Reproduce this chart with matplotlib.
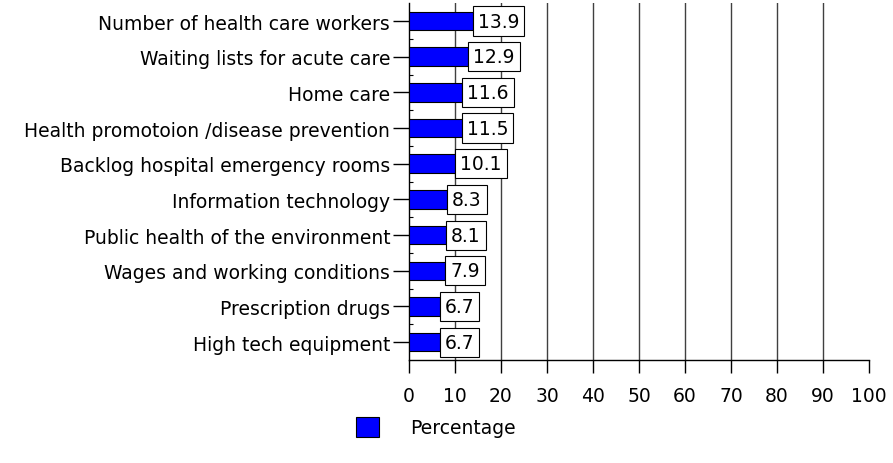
import numpy as np
import matplotlib.pyplot as plt
from matplotlib.ticker import FixedLocator

plt.rcParams['font.family'] = ['DejaVu Sans']

# data (top to bottom as in the chart)
categories = [
    'Number of health care workers',
    'Waiting lists for acute care',
    'Home care',
    'Health promotoion /disease prevention',
    'Backlog hospital emergency rooms',
    'Information technology',
    'Public health of the environment',
    'Wages and working conditions',
    'Prescription drugs',
    'High tech equipment',
]
values = [13.9, 12.9, 11.6, 11.5, 10.1, 8.3, 8.1, 7.9, 6.7, 6.7]
series_name = 'Percentage'

fs = 13.5

fig = plt.figure(figsize=(8.93, 4.64), dpi=100)
ax = fig.add_axes([0.458, 0.222, 0.515, 0.769])

y = np.arange(len(categories))[::-1]
bars = ax.barh(y, values, height=0.52, color='#0000ff', edgecolor='black',
               linewidth=0.8, label=series_name, zorder=3)

for yi, v in zip(y, values):
    ax.annotate(f'{v:.1f}', xy=(v, yi), xytext=(3.5, 0), textcoords='offset points',
                ha='left', va='center', fontsize=fs, zorder=4,
                bbox=dict(boxstyle='square,pad=0.27', fc='white', ec='black', lw=0.8))

ax.set_xlim(0, 100)
ax.set_ylim(-0.5, len(categories) - 0.5)
ax.set_xticks(np.arange(0, 101, 10))
ax.set_yticks(y)
ax.set_yticklabels(categories, fontsize=fs)
ax.tick_params(axis='x', labelsize=fs, length=9.5, width=1, pad=9)
ax.tick_params(axis='y', length=11.5, width=1, pad=2)
ax.yaxis.set_minor_locator(FixedLocator(np.arange(0.5, len(categories) - 1, 1)))
ax.tick_params(axis='y', which='minor', direction='in', length=3, width=0.8)

for gx in range(10, 100, 10):
    ax.axvline(gx, color='#404040', lw=1, zorder=1)

for s in ['top', 'right']:
    ax.spines[s].set_visible(False)
ax.spines['left'].set_linewidth(1)
ax.spines['bottom'].set_linewidth(1)

fig.legend(handles=[bars], labels=[series_name], loc='center left',
           bbox_to_anchor=(0.380, 0.078), frameon=False, fontsize=fs,
           handlelength=1.2, handleheight=1.3, handletextpad=1.7)

fig.savefig('out.png', dpi=100)
